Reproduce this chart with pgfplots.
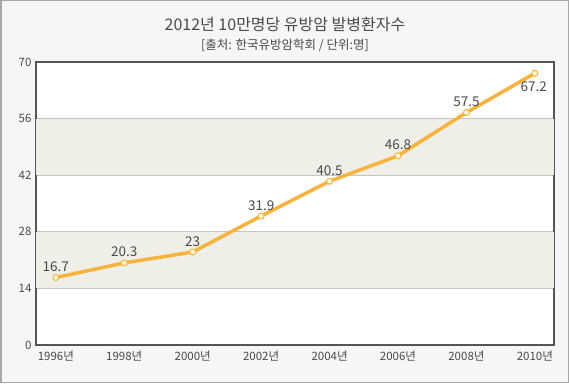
\documentclass[border=0pt]{standalone}
\usepackage{pgfplots}
\pgfplotsset{compat=1.18}
\usepackage{fontspec}
\setmainfont{Noto Sans CJK KR}
\definecolor{bgc}{HTML}{F6F6F6}
\definecolor{framec}{HTML}{A8A8A8}
\definecolor{axc}{HTML}{555555}
\definecolor{bandc}{HTML}{EFEFE7}
\definecolor{gridc}{HTML}{C4C4C4}
\definecolor{linec}{HTML}{F8B23E}
\definecolor{txtc}{HTML}{4A4A4A}
\begin{document}
\begin{tikzpicture}[x=1pt,y=1pt]
\fill[bgc] (0,0) rectangle (569,383);
\draw[framec,line width=1.5pt] (0.75,0.75) rectangle (568.25,382.25);
\node[txtc,font=\fontsize{16}{18}\selectfont] at (285,359) {2012년 10만명당 유방암 발병환자수};
\node[txtc,font=\fontsize{12.5}{14}\selectfont] at (285,338) {[출처: 한국유방암학회 / 단위:명]};
\begin{axis}[
  at={(36pt,38pt)}, anchor=south west,
  scale only axis, width=518pt, height=283pt,
  xmin=-0.29, xmax=7.28, ymin=0, ymax=70,
  xtick={0,...,7},
  xticklabels={1996년,1998년,2000년,2002년,2004년,2006년,2008년,2010년},
  ytick={0,14,28,42,56,70},
  major tick length=0pt,
  axis line style={axc,line width=2pt},
  tick label style={txtc,font=\fontsize{11.5}{13}\selectfont},
  /pgf/number format/assume math mode=true,
  xticklabel style={yshift=-2pt},
  yticklabel style={xshift=-1pt},
  ymajorgrids, grid style={gridc,line width=0.8pt},
  axis background/.style={fill=white},
  clip=false,
  nodes near coords style={txtc,font=\fontsize{13.5}{15}\selectfont},
]
\fill[bandc] (rel axis cs:0,0.2) rectangle (rel axis cs:1,0.4);
\fill[bandc] (rel axis cs:0,0.6) rectangle (rel axis cs:1,0.8);
\addplot[linec,line width=3.5pt,mark=*,mark size=3pt,
  mark options={fill=white!85!yellow,draw=linec,line width=1pt},
  nodes near coords, point meta=explicit symbolic,
  every node near coord/.append style={anchor=south,yshift=2pt}]
  table[meta=lab] {
x y lab
0 16.7 16.7
1 20.3 20.3
2 23 23
3 31.9 31.9
4 40.5 40.5
5 46.8 46.8
6 57.5 57.5
7 67.2 {}
};
\addplot[draw=none,mark=none,nodes near coords,point meta=explicit symbolic,
  every node near coord/.append style={anchor=north,yshift=-5pt,xshift=-1pt}]
  table[meta=lab] {
x y lab
7 67.2 67.2
};
\end{axis}
\end{tikzpicture}
\end{document}
